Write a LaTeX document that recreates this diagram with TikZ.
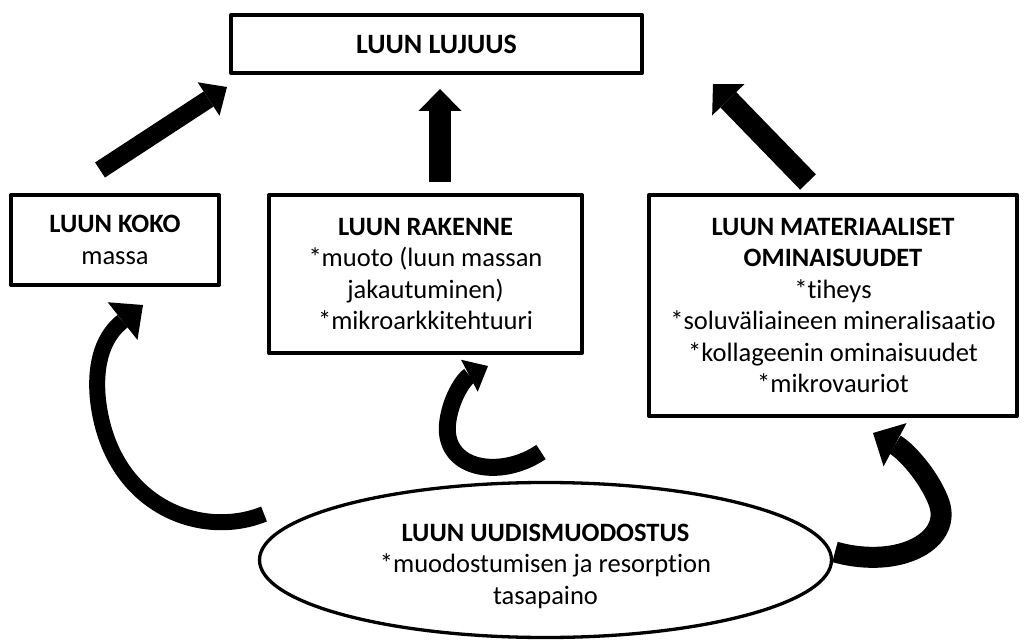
\documentclass[tikz,border=0pt]{standalone}
\usepackage{fontspec}
\setmainfont[Ligatures=NoCommon]{Carlito}
\usetikzlibrary{arrows.meta,shapes.geometric}
\begin{document}
\begin{tikzpicture}[x=1pt,y=-1pt,
  box/.style={draw,line width=4pt,line join=round,inner sep=0pt,align=center,
    font=\fontsize{26.5}{31.5}\selectfont},
  txt/.style={align=center,inner sep=0pt,font=\fontsize{26.5}{31.5}\selectfont},
  blk/.style={line width=#1,line cap=butt},
]
\useasboundingbox (0,0) rectangle (1031,644);
% boxes
\node[box,minimum width=411pt,minimum height=58pt,font=\fontsize{28}{31.5}\selectfont] (luj) at (436.5,44) {\textbf{LUUN LUJUUS}};
\node[box,minimum width=208pt,minimum height=90pt] (koko) at (115,240) {\textbf{LUUN KOKO}\\massa};
\node[box,minimum width=313pt,minimum height=158pt] (rak) at (425.5,274) {\textbf{LUUN RAKENNE}\\*muoto (luun massan\\jakautuminen)\\*mikroarkkitehtuuri};
\node[box,minimum width=368pt,minimum height=221pt] (mat) at (833,305.5) {\textbf{LUUN MATERIAALISET}\\\textbf{OMINAISUUDET}\\*tiheys\\*soluväliaineen mineralisaatio\\*kollageenin ominaisuudet\\*mikrovauriot};
\node[draw,ellipse,line width=3.3pt,minimum width=572pt,minimum height=155pt,inner sep=0pt] (uud) at (545.5,560) {};
\node[txt] (uudt) at (545.5,566) {\textbf{LUUN UUDISMUODOSTUS}\\*muodostumisen ja resorption\\tasapaino};
% straight arrow end points
\coordinate (a1s) at (100,170); \coordinate (a1e) at (227,87);
\coordinate (a2s) at (440,182); \coordinate (a2e) at (440,89);
\coordinate (a3s) at (808,182); \coordinate (a3e) at (713,84);
\draw[blk=18pt,-{Triangle[width=40pt,length=22pt,line width=0pt]}] (a1s) -- (a1e);
\draw[blk=22pt,-{Triangle[width=43pt,length=22pt,line width=0pt]}] (a2s) -- (a2e);
\draw[blk=22pt,-{Triangle[width=45pt,length=22pt,line width=0pt]}] (a3s) -- (a3e);
% curved arrows
\coordinate (c1s) at (264,514); \coordinate (c1e) at (143,305);
\coordinate (c2s) at (541,452); \coordinate (c2e) at (488,366);
\coordinate (c3s) at (835,552); \coordinate (c3e) at (873,433);
\draw[blk=16pt,-{Triangle[width=48pt,length=26pt,line width=0pt]}]
  (c1s) .. controls (200,540) and (110,505) .. (98,400) .. controls (94,360) and (105,335) .. (c1e);
\draw[blk=17pt,-{Triangle[width=36pt,length=21pt,line width=0pt]}]
  (c2s) .. controls (500,480) and (440,470) .. (448,420) .. controls (452,395) and (465,378) .. (c2e);
\draw[blk=21pt,-{Triangle[width=49pt,length=25pt,line width=0pt]}]
  (c3s) .. controls (900,570) and (955,540) .. (938,500) .. controls (928,475) and (905,450) .. (c3e);
\end{tikzpicture}
\end{document}
